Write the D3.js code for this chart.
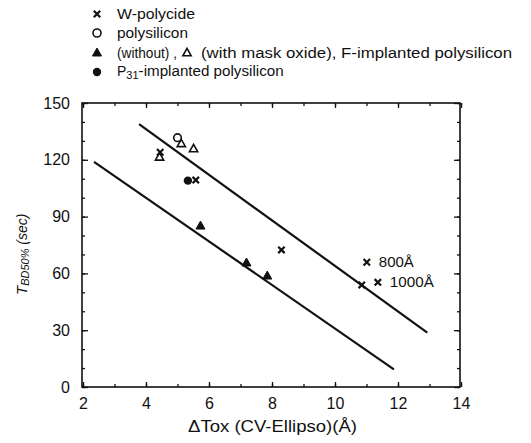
<!DOCTYPE html>
<html><head><meta charset="utf-8">
<script src="https://cdn.jsdelivr.net/npm/d3@7"></script>
<style>body{margin:0;background:#fff}svg{display:block}text{font-family:"Liberation Sans",Arial,Helvetica,sans-serif;fill:#111}</style>
</head><body><svg id="c" width="531" height="443"></svg>
<script>
// ---- data ----
const wPolycide = [[4.45,124],[5.58,109.3],[8.3,72.4],[11.01,65.9],[10.85,53.9],[11.36,55.3]];
const polysilicon = [[5.0,131.7]];
const fWithout = [[5.73,85],[7.19,65.5],[7.85,58.6]];
const fWithMask = [[5.12,128.4],[5.51,125.7],[4.43,121.3]];
const p31 = [[5.33,109]];
const upperLine = [[3.78,138.8],[12.93,28.7]];
const lowerLine = [[2.35,118.9],[11.87,9.35]];
const annotations = [{x:11.01,y:65.9,t:"800Å"},{x:11.36,y:55.3,t:"1000Å"}];
const xTicks = [2,4,6,8,10,12,14];
const yTicks = [0,30,60,90,120,150];

const svg = d3.select("#c");
const x = d3.scaleLinear().domain([2,14]).range([83,461]);
const y = d3.scaleLinear().domain([0,150]).range([387,103]);
const ink = "#111";

// frame
svg.append("rect").attr("x",x(2)-1).attr("y",y(150)).attr("width",x(14)-x(2)).attr("height",y(0)-y(150))
  .attr("fill","none").attr("stroke",ink).attr("stroke-width",1.6);

// axes
function styleAxis(g){g.select(".domain").remove();g.selectAll("line").attr("stroke",ink).attr("stroke-width",1.3);
  g.selectAll("text").attr("font-size",16).style("fill",ink);}
const xMinor = d3.range(2,14.01,1), yMinor = d3.range(0,150.1,10);
svg.append("g").attr("transform",`translate(0,${y(0)})`).call(d3.axisBottom(x).tickValues(xMinor).tickSize(-3).tickFormat("")).call(styleAxis);
svg.append("g").attr("transform",`translate(0,${y(0)})`).call(d3.axisBottom(x).tickValues(xTicks).tickSize(-5).tickPadding(11).tickFormat(d3.format("d"))).call(styleAxis);
svg.append("g").attr("transform",`translate(0,${y(150)})`).call(d3.axisTop(x).tickValues(xMinor).tickSize(-3).tickFormat("")).call(styleAxis);
svg.append("g").attr("transform",`translate(0,${y(150)})`).call(d3.axisTop(x).tickValues(xTicks).tickSize(-5).tickFormat("")).call(styleAxis);
svg.append("g").attr("transform",`translate(${x(2)-1},0)`).call(d3.axisLeft(y).tickValues(yMinor).tickSize(-3).tickFormat("")).call(styleAxis);
svg.append("g").attr("transform",`translate(${x(2)-1},0)`).call(d3.axisLeft(y).tickValues(yTicks).tickSize(-6).tickPadding(12).tickFormat(d3.format("d"))).call(styleAxis);
svg.append("g").attr("transform",`translate(${x(14)-1},0)`).call(d3.axisRight(y).tickValues(yMinor).tickSize(-3).tickFormat("")).call(styleAxis);
svg.append("g").attr("transform",`translate(${x(14)-1},0)`).call(d3.axisRight(y).tickValues(yTicks).tickSize(-6).tickFormat("")).call(styleAxis);

// lines
const line = d3.line().x(d=>x(d[0])).y(d=>y(d[1]));
[upperLine,lowerLine].forEach(l=>svg.append("path").attr("d",line(l)).attr("fill","none").attr("stroke",ink).attr("stroke-width",2.2));

// markers
function cross(g,cx,cy,s){g.append("path").attr("d",`M${cx-s},${cy-s}L${cx+s},${cy+s}M${cx-s},${cy+s}L${cx+s},${cy-s}`).attr("stroke",ink).attr("stroke-width",2.2).attr("fill","none");}
function tri(g,cx,cy,s,filled){g.append("path").attr("d",`M${cx},${cy-s}L${cx+s*0.9},${cy+s*0.6}L${cx-s*0.9},${cy+s*0.6}Z`)
  .attr("fill",filled?ink:"none").attr("stroke",ink).attr("stroke-width",filled?1:1.6);}
const m = svg.append("g");
wPolycide.forEach(d=>cross(m,x(d[0]),y(d[1]),3.2));
polysilicon.forEach(d=>m.append("circle").attr("cx",x(d[0])).attr("cy",y(d[1])).attr("r",3.8).attr("fill","none").attr("stroke",ink).attr("stroke-width",1.6));
fWithout.forEach(d=>tri(m,x(d[0]),y(d[1]),5,true));
fWithMask.forEach(d=>tri(m,x(d[0]),y(d[1]),4.6,false));
p31.forEach(d=>m.append("circle").attr("cx",x(d[0])).attr("cy",y(d[1])).attr("r",4.2).attr("fill",ink));

function fit(sel,w){return sel.attr("textLength",w).attr("lengthAdjust","spacingAndGlyphs");}
annotations.forEach((a,i)=>fit(svg.append("text").attr("x",x(a.x)+12).attr("y",y(a.y)+5).attr("font-size",14).text(a.t),[35,44][i]));

// axis titles
fit(svg.append("text").attr("x",188).attr("y",432).attr("font-size",16).text("ΔTox (CV-Ellipso)(Å)"),169);
const yt = svg.append("text").attr("transform","translate(27,295) rotate(-90)").attr("font-size",15);
yt.append("tspan").attr("font-style","italic").text("T");
yt.append("tspan").attr("font-size",11).attr("font-style","italic").attr("dy",2).text("BD50%");
yt.append("tspan").attr("dy",-2).attr("font-size",14).attr("font-style","italic").text(" (sec)");

// legend
const L = svg.append("g");
const lx = 97, tx = 117;
cross(L,lx,14,3.2);
fit(L.append("text").attr("x",tx).attr("y",19).attr("font-size",14).text("W-polycide"),78);
L.append("circle").attr("cx",lx).attr("cy",33).attr("r",4).attr("fill","none").attr("stroke",ink).attr("stroke-width",1.6);
fit(L.append("text").attr("x",tx).attr("y",38).attr("font-size",14).text("polysilicon"),71);
tri(L,lx,53,5,true);
fit(L.append("text").attr("x",tx).attr("y",58).attr("font-size",14).text("(without) ,"),60);
tri(L,187,53,4.6,false);
fit(L.append("text").attr("x",201).attr("y",58).attr("font-size",14).text("(with mask oxide), F-implanted polysilicon"),311);
L.append("circle").attr("cx",lx).attr("cy",72).attr("r",4.2).attr("fill",ink);
const pt = L.append("text").attr("x",tx).attr("y",76).attr("font-size",14);
pt.append("tspan").text("P");
pt.append("tspan").attr("font-size",11).attr("dy",3).text("31");
fit(pt.append("tspan").attr("dy",-3).text("-implanted polysilicon"),145);
</script></body></html>
